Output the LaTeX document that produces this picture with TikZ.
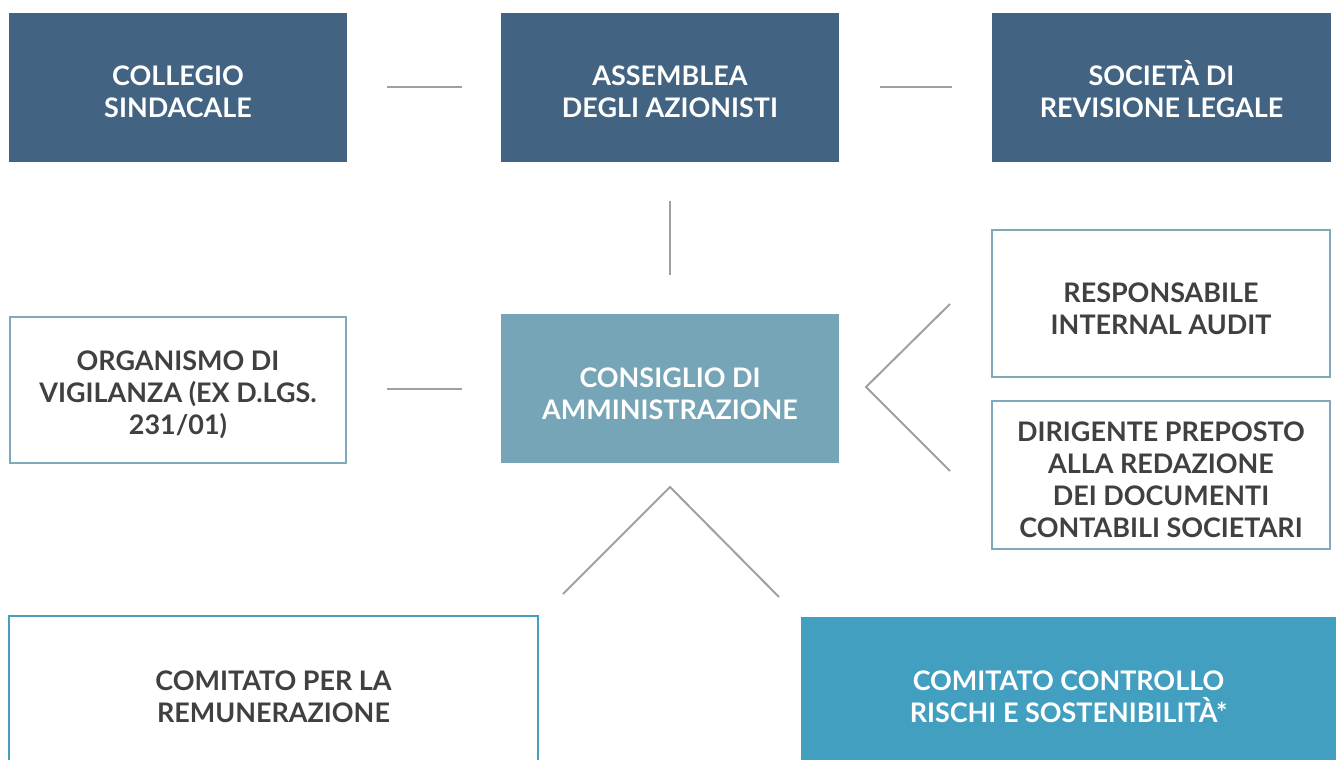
\documentclass[tikz,border=0pt]{standalone}
\usepackage{fontspec}
\setmainfont{Lato}
\newcommand{\topfix}{\rule{0pt}{22pt}}
\definecolor{darkbox}{HTML}{426482}
\definecolor{midbox}{HTML}{75A5B6}
\definecolor{tealbox}{HTML}{429FC0}
\definecolor{lightedge}{HTML}{7FA9BA}
\definecolor{tealedge}{HTML}{45A0BF}
\definecolor{txt}{HTML}{404040}
\definecolor{conncol}{HTML}{A0A0A0}
\begin{document}
\begin{tikzpicture}[x=0.75pt,y=-0.75pt,
  box/.style={rectangle,inner sep=0pt,align=center,font=\fontsize{20.2}{24}\selectfont\bfseries,
    minimum width=253.5pt,minimum height=111.75pt},
  darkfill/.style={box,fill=darkbox,text=white},
  midfill/.style={box,fill=midbox,text=white},
  tealfill/.style={box,fill=tealbox,text=white},
  outline/.style={box,draw=lightedge,line width=1.6pt,fill=white,text=txt},
  tealoutline/.style={box,draw=tealedge,line width=1.6pt,fill=white,text=txt},
  conn/.style={draw=conncol,line width=1.5pt}]
\useasboundingbox (0,0) rectangle (1336,760);
\clip (0,0) rectangle (1336,760);
\node[darkfill] (col) at (178,87) {\topfix COLLEGIO\\SINDACALE};
\node[darkfill] (ass) at (670,87) {\topfix ASSEMBLEA\\DEGLI AZIONISTI};
\node[darkfill,minimum width=254.25pt] (soc) at (1161.5,87) {\topfix SOCIETÀ DI\\REVISIONE LEGALE};
\node[outline,minimum width=252pt,minimum height=110pt] (org) at (178,390) {\topfix ORGANISMO DI\\VIGILANZA (EX D.LGS.\\231/01)};
\node[midfill] (cda) at (670,388.5) {\topfix CONSIGLIO DI\\AMMINISTRAZIONE};
\node[outline,minimum width=253pt,minimum height=110pt] (ria) at (1161,303.5) {\topfix RESPONSABILE\\INTERNAL AUDIT};
\node[outline,minimum width=253pt,minimum height=110.5pt] (dir) at (1161,475) {\topfix DIRIGENTE PREPOSTO\\ALLA REDAZIONE\\DEI DOCUMENTI\\CONTABILI SOCIETARI};
\node[tealoutline,minimum width=397pt,minimum height=114pt] (rem) at (273.5,692) {\topfix COMITATO PER LA\\REMUNERAZIONE};
\node[tealfill,minimum width=401.25pt,minimum height=112.5pt] (ccr) at (1068.5,692) {\topfix COMITATO CONTROLLO\\RISCHI E SOSTENIBILITÀ*};
% connectors
\coordinate (cA) at (387,87); \coordinate (cB) at (462,87);
\coordinate (cC) at (880,87); \coordinate (cD) at (952,87);
\coordinate (cE) at (670,201); \coordinate (cF) at (670,275);
\coordinate (cG) at (387,389); \coordinate (cH) at (462,389);
\coordinate (rTop) at (950,304); \coordinate (rApex) at (866,387); \coordinate (rBot) at (950,471);
\coordinate (bL) at (563,594); \coordinate (bApex) at (670,487); \coordinate (bR) at (779,597);
\draw[conn] (cA) -- (cB);
\draw[conn] (cC) -- (cD);
\draw[conn] (cE) -- (cF);
\draw[conn] (cG) -- (cH);
\draw[conn] (rTop) -- (rApex) -- (rBot);
\draw[conn] (bL) -- (bApex) -- (bR);
\end{tikzpicture}
\end{document}
